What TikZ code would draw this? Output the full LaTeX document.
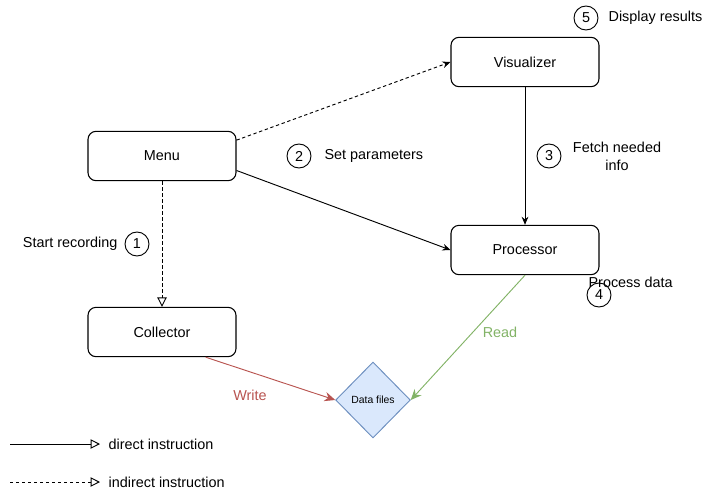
\documentclass[tikz,border=0pt]{standalone}
\usepackage{fontspec}
\setmainfont{Liberation Sans}
\usetikzlibrary{arrows.meta,shapes.geometric}
\definecolor{redline}{HTML}{B85450}
\definecolor{greenline}{HTML}{82B366}
\definecolor{bluefill}{HTML}{DAE8FC}
\definecolor{blueline}{HTML}{6C8EBF}

\begin{document}
\begin{tikzpicture}[x=0.75pt,y=-0.75pt,
		font=\fontsize{10.8}{12}\selectfont,
		block/.style={draw,rounded corners=6pt,line width=0.8pt,minimum width=111pt,minimum height=37pt},
		stepno/.style={draw,circle,line width=0.7pt,minimum size=18pt,inner sep=0pt},
		conn/.style={line width=0.7pt,-{Stealth[length=6pt,width=5pt]}},
		ind/.style={conn,dash pattern=on 2.5pt off 2pt},
		openhead/.style={-{Triangle[open,length=7pt,width=7pt]}}]
	\useasboundingbox (0,0) rectangle (706,493);
	% boxes
	\node[block] (menu) at (162,156) {Menu};
	\node[block] (vis) at (525,62) {Visualizer};
	\node[block] (proc) at (525,250) {Processor};
	\node[block] (coll) at (162,332) {Collector};
	\node[diamond,draw=blueline,fill=bluefill,line width=0.7pt,minimum width=56pt,minimum height=57pt,inner sep=0pt,font=\fontsize{7.8}{9}\selectfont] (data) at (373,400) {Data files};
	% step numbers and their texts
	\node[stepno] (s1) at (137,244) {1};
	\node[anchor=east,inner sep=1pt] (t1) at (119,244) {Start recording};
	\node[stepno] (s2) at (299,156) {2};
	\node[anchor=west,inner sep=1pt] (t2) at (323,156) {Set parameters};
	\node[stepno] (s3) at (549,156) {3};
	\node[align=center] (t3) at (617,156) {Fetch needed\\[1.5pt]info};
	\node[stepno] (s4) at (599,295) {4};
	\node[anchor=west,inner sep=1pt] (t4) at (587,282) {Process data};
	\node[stepno] (s5) at (586,18) {5};
	\node[anchor=west,inner sep=1pt] (t5) at (607,18) {Display results};
	% connectors
	\draw[ind] (menu.12) -- (vis.west);
	\draw[conn] (menu.-11) -- (proc.west);
	\draw[conn] (vis) -- (proc);
	\draw[line width=0.7pt,dash pattern=on 2.5pt off 2pt,openhead] (menu) -- (coll);
	\draw[conn,draw=redline,-{Stealth[length=8pt,width=7pt,fill=redline]}] (coll.-30) -- (data.west);
	\draw[conn,draw=greenline,-{Stealth[length=8pt,width=7pt,fill=greenline]}] (proc.south) -- (data.east);
	\node[text=redline] (write) at (250,395) {Write};
	\node[text=greenline] (read) at (500,332) {Read};
	% legend
	\coordinate (l1a) at (10,444);
	\coordinate (l1b) at (100,444);
	\coordinate (l2a) at (10,482);
	\coordinate (l2b) at (100,482);
	\draw[line width=0.7pt,openhead] (l1a) -- (l1b);
	\draw[line width=0.7pt,dash pattern=on 2.5pt off 2pt,openhead] (l2a) -- (l2b);
	\node[anchor=west,inner sep=1pt] (leg1) at (107,444) {direct instruction};
	\node[anchor=west,inner sep=1pt] (leg2) at (107,482) {indirect instruction};
\end{tikzpicture}
\end{document}
